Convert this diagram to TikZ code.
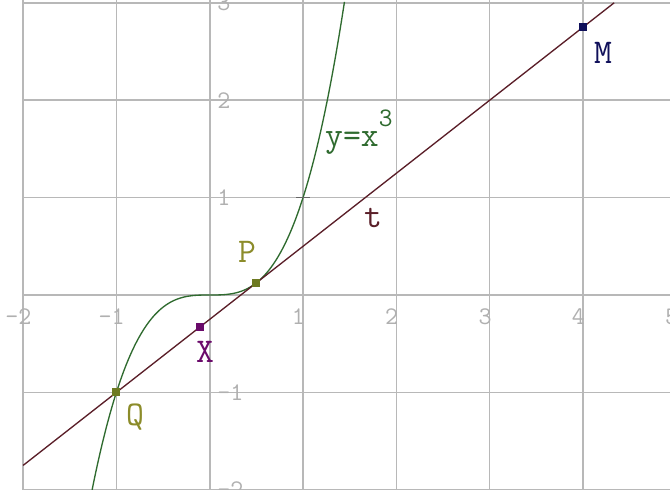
\documentclass[tikz,border=0pt]{standalone}
\usepackage{fontspec}
\definecolor{gridgray}{HTML}{B8B8B8}
\definecolor{numgray}{HTML}{B0B0B0}
\definecolor{curvegreen}{HTML}{2F6B2F}
\definecolor{tanred}{HTML}{5A1E28}
\definecolor{olivept}{HTML}{6E7A22}
\definecolor{olivetxt}{HTML}{8C8C2A}
\definecolor{purplept}{HTML}{6A0A6A}
\definecolor{navypt}{HTML}{10105A}
\begin{document}
\begin{tikzpicture}[x=70pt,y=73.05pt,
  gridline/.style={draw=gridgray,line width=1.2pt},
  numlab/.style={font=\ttfamily\fontsize{19}{19}\selectfont,text=numgray,inner sep=0pt},
  ptlab/.style={font=\ttfamily\fontsize{26}{26}\selectfont,inner sep=0pt,anchor=base},
  ptmark/.style={minimum size=6pt,inner sep=0pt,draw=none}]
\useasboundingbox (-2.247,-2.002) rectangle (4.932,3.029);
\begin{scope}
\clip (-2.247,-2.002) rectangle (4.932,3.029);
\fill[white] (-2.247,-2.002) rectangle (4.932,3.029);
% grid
\foreach \gx in {-2,...,5} \draw[gridline] (\gx,-2.1) -- (\gx,3.1);
\foreach \gy in {-2,...,3} \draw[gridline] (-2,\gy) -- (5.1,\gy);
% x labels
\foreach \gx in {-2,-1,1,2,3,4,5}
  \node[numlab] (xl\gx) at ({\gx-0.05},-0.225) {\gx};
% y labels
\foreach \gy in {-2,-1,1,2,3}
  \node[numlab,anchor=west] (yl\gy) at (0.08,\gy) {\gy};
% curve y = x^3
\draw[curvegreen,line width=1.0pt] plot[domain=-1.26:1.445,samples=120,smooth] (\x,{\x*\x*\x});
% tangent t
\coordinate (tA) at (-2,-1.75);
\coordinate (tB) at (4.3333,3);
\draw[tanred,line width=1.0pt] (tA) -- (tB);
% small mark at (1,1)
\coordinate (U) at (1,1);
\draw[black!60,line width=0.8pt] ([xshift=-5pt]U) -- ([xshift=5pt]U);
% points
\node[ptmark,fill=olivept] (Q) at (-1,-1) {};
\node[ptmark,fill=olivept] (P) at (0.5,0.125) {};
\node[ptmark,fill=purplept] (X) at (-0.107,-0.33) {};
\node[ptmark,fill=navypt] (M) at (4,2.75) {};
% labels
\node[ptlab,text=olivetxt] (Ql) at (-0.8,-1.335) {Q};
\node[ptlab,text=olivetxt] (Pl) at (0.40,0.329) {P};
\node[ptlab,text=purplept] (Xl) at (-0.05,-0.688) {X};
\node[ptlab,text=navypt] (Ml) at (4.214,2.382) {M};
\node[ptlab,text=tanred] (tl) at (1.75,0.698) {t};
\node[ptlab,anchor=base west,text=curvegreen] (cl) at (1.235,1.52) {y=x\raisebox{0.6em}{\fontsize{20}{20}\selectfont 3}};
\end{scope}
\end{tikzpicture}
\end{document}
